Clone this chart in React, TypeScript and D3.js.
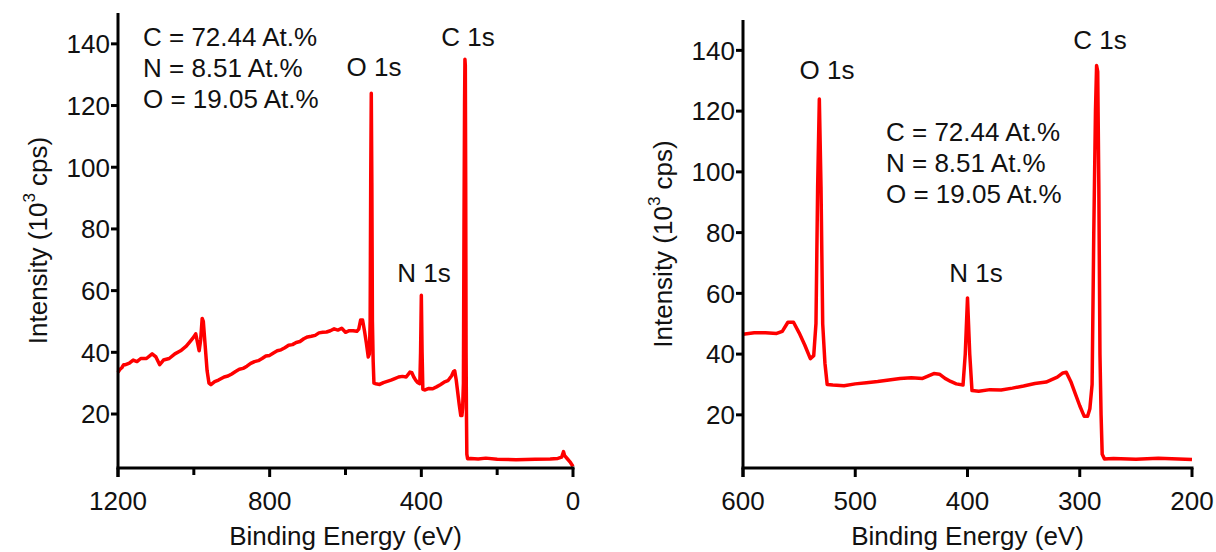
import React from "react";
import * as d3 from "d3";

// survey spectrum, binding energy (eV) vs intensity (10^3 cps)
const bindingEnergy = [
  1200, 1195, 1190, 1185, 1180, 1170, 1160, 1150, 1140, 1125, 1110, 1100, 1090, 1080, 1065, 1050, 1035, 1020,
  1010, 1000, 995, 990, 986, 982, 978, 975, 970, 965, 960, 955, 945, 935, 920, 910, 900, 890, 880, 870, 860,
  850, 840, 830, 820, 810, 800, 790, 780, 770, 760, 750, 740, 730, 720, 710, 700, 690, 680, 670, 660, 650,
  640, 630, 620, 610, 600, 590, 580, 570, 565, 560, 555, 550, 545, 540, 537, 535, 533.5, 532,
  530.5, 529, 527, 525, 520, 510, 500, 490, 480, 470, 460, 450, 440, 430, 425, 420, 415, 410, 404, 402, 400,
  398, 396, 390, 380, 370, 360, 350, 340, 330, 320, 315, 312, 308, 304, 300, 296, 293, 291, 289, 287.5, 286,
  285, 284, 283, 282, 281, 280, 278, 270, 250, 230, 200, 150, 100, 60, 40, 30, 25, 22, 15, 8, 0,
];
const intensity = [
  33.5, 34.5, 35, 36, 36, 36.5, 37.5, 37, 38, 38, 39.5, 38.5, 36, 37.5, 38, 39.5, 40.5, 42,
  43.5, 45, 46, 43, 40.5, 44, 51, 50, 42, 34, 30, 29.5, 30.5, 31, 32, 32.3, 33, 33.8, 34.5, 34.8, 35.5,
  36.4, 37, 37.3, 38, 38.8, 39, 39.8, 40.5, 40.8, 41.5, 42.3, 42.5, 43.2, 43.5, 44.4, 45, 45.2, 45.5, 46.3, 46.5, 46.6,
  47, 47.6, 47.2, 47.8, 46.5, 47, 47, 46.8, 47.5, 50.5, 50.5, 47, 43, 38.5, 39.5, 50, 95, 124,
  95, 50, 37, 30, 29.8, 29.6, 30.2, 30.6, 31, 31.5, 32, 32.2, 32, 33.6, 33.4, 32, 31, 30.2, 29.8, 40, 58.5,
  40, 28, 27.8, 28.3, 28.2, 28.8, 29.5, 30.3, 30.8, 32.4, 33.8, 34, 31, 27, 23, 19.5, 19.5, 22, 30, 80, 120,
  135, 133, 95, 40, 20, 7, 5.5, 5.6, 5.4, 5.7, 5.3, 5.2, 5.3, 5.4, 5.6, 6, 7.8, 6.5, 5.5, 4.5, 3,
];

const yTicks = [20, 40, 60, 80, 100, 120, 140];
const leftXTicks = [1200, 800, 400, 0];
const leftXMinor = [1000, 600, 200];
const rightXTicks = [600, 500, 400, 300, 200];
const composition = ["C = 72.44 At.%", "N = 8.51 At.%", "O = 19.05 At.%"];
const peakLabels = ["O 1s", "N 1s", "C 1s"];

const points = bindingEnergy.map((e, i) => ({ e, v: intensity[i] }));
const FONT = "'Liberation Sans', Arial, sans-serif";
const RED = "#ff0000";
const FS = 26;

function Panel({ x0, x1, yTop, domain, ticks, minor, peaks, note }) {
  const yBottom = 468;
  const x = d3.scaleLinear().domain(domain).range([x0, x1]);
  const y = d3.scaleLinear().domain([2.5, 150]).range([yBottom, yTop]);
  const lo = Math.min(domain[0], domain[1]);
  const hi = Math.max(domain[0], domain[1]);
  const data = points.filter(p => p.e >= lo && p.e <= hi);
  const line = d3.line().x(d => x(d.e)).y(d => y(d.v));
  const cx = (x0 + x1) / 2;
  const cy = (yBottom + yTop) / 2;

  return (
    <g fontFamily={FONT} fill="#111">
      <path d={line(data)} fill="none" stroke={RED} strokeWidth={3.5} strokeLinejoin="round" />
      {/* axes */}
      <line x1={x0} x2={x0} y1={yTop} y2={yBottom + 9} stroke="#000" strokeWidth={3} />
      <line x1={x0 - 1.5} x2={x1 + 1.5} y1={yBottom} y2={yBottom} stroke="#000" strokeWidth={3} />
      {yTicks.map(t => (
        <g key={"y" + t}>
          <line x1={x0 - 7} x2={x0} y1={y(t)} y2={y(t)} stroke="#000" strokeWidth={3} />
          <text x={x0 - 8} y={y(t)} dy="0.36em" textAnchor="end" fontSize={FS}>{t}</text>
        </g>
      ))}
      {ticks.map(t => (
        <g key={"x" + t}>
          <line x1={x(t)} x2={x(t)} y1={yBottom} y2={yBottom + 9} stroke="#000" strokeWidth={3} />
          <text x={x(t)} y={510} textAnchor="middle" fontSize={FS}>{t}</text>
        </g>
      ))}
      {minor.map(t => (
        <line key={"m" + t} x1={x(t)} x2={x(t)} y1={yBottom} y2={yBottom + 7} stroke="#000" strokeWidth={3} />
      ))}
      <text x={cx} y={545} textAnchor="middle" fontSize={FS}>Binding Energy (eV)</text>
      <text transform={`translate(${x0 - 71},${cy}) rotate(-90)`} textAnchor="middle" fontSize={FS}>
        Intensity (10<tspan dy={-12} fontSize={17}>3</tspan><tspan dy={12}> cps)</tspan>
      </text>
      {/* peak labels */}
      {peakLabels.map((lab, i) => (
        <text key={lab} x={peaks[i][0]} y={peaks[i][1]} textAnchor="middle" fontSize={FS}>{lab}</text>
      ))}
      {composition.map((c, i) => (
        <text key={c} x={note[0]} y={note[1] + i * 31} fontSize={FS}>{c}</text>
      ))}
    </g>
  );
}

export default function App() {
  return (
    <svg width={1216} height={552} style={{ position: "absolute", left: 0, top: 0, background: "#fff" }}>
      <rect width={1216} height={552} fill="#fff" />
      <Panel
        x0={118} x1={573} yTop={13}
        domain={[1200, 0]} ticks={leftXTicks} minor={leftXMinor}
        peaks={[[374, 76], [424, 282], [468, 46]]}
        note={[143, 46]}
      />
      <Panel
        x0={743} x1={1192} yTop={20}
        domain={[600, 200]} ticks={rightXTicks} minor={[]}
        peaks={[[827, 79], [976, 282], [1100, 49]]}
        note={[886, 141]}
      />
    </svg>
  );
}
